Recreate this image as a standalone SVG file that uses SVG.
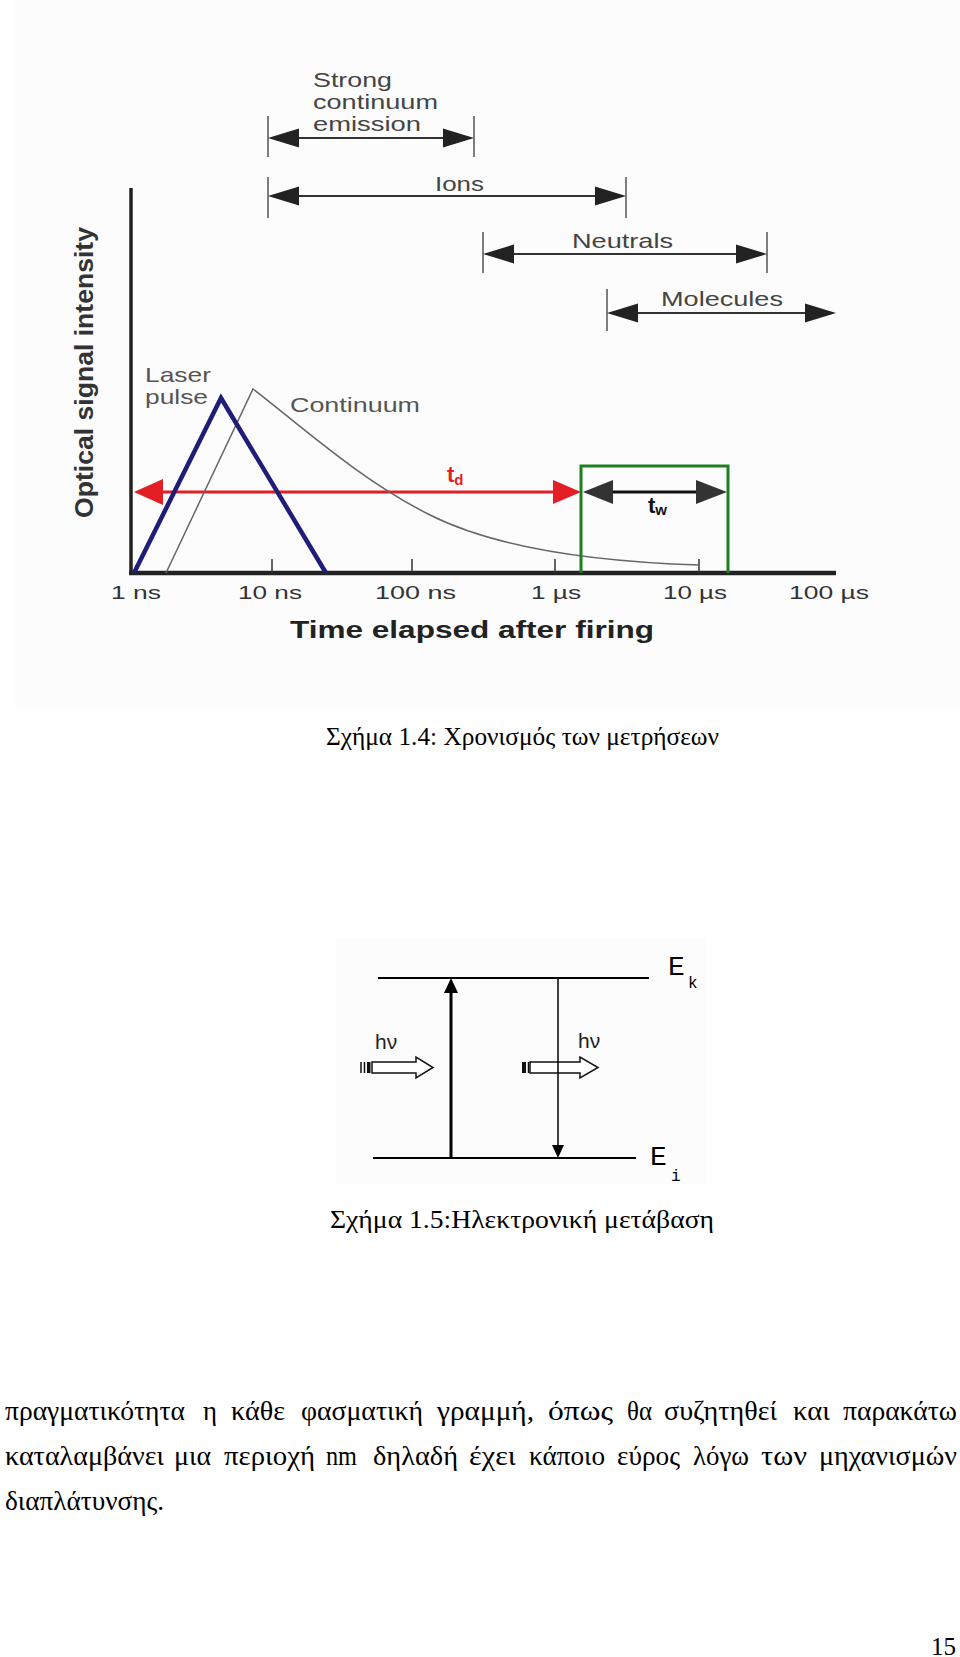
<svg xmlns="http://www.w3.org/2000/svg" width="960" height="1657" viewBox="0 0 960 1657">
<defs>
<polygon id="bh" points="0,0 -31,-9.5 -31,9.5"/>
<style>
.lbl{font-family:"Liberation Sans",Arial,sans-serif;fill:#444;font-size:21px}
.lbl2{font-family:"Liberation Sans",Arial,sans-serif;fill:#555;font-size:21px}
.tick{font-family:"Liberation Sans",Arial,sans-serif;fill:#333;font-size:19px}
.brk{stroke:#555;stroke-width:1.5}
.bl{stroke:#333;stroke-width:2}
.bhf{fill:#222}
.serif{font-family:"Liberation Serif","Times New Roman",serif;font-size:25px;fill:#000}
.body{font-family:"Liberation Serif","Times New Roman",serif;font-size:27px;fill:#000}
.mono{font-family:"Liberation Mono","Courier New",monospace;fill:#000}
.hv{font-family:"Liberation Sans",Arial,sans-serif;font-size:21px;fill:#222}
.photon{fill:#fff;stroke:#111;stroke-width:1.5}
</style>
</defs>
<rect width="960" height="1657" fill="#fff"/>
<g id="figure1">
<rect x="15" y="0" width="945" height="708" fill="#fcfcfc"/>
<g id="connectors">
<g id="br-strong">
<line class="brk" x1="268" y1="116" x2="268" y2="157"/><line class="brk" x1="474" y1="116" x2="474" y2="157"/>
<line class="bl" x1="290" y1="138" x2="452" y2="138"/>
<use href="#bh" class="bhf" transform="translate(474,138)"/><use href="#bh" class="bhf" transform="translate(268,138) rotate(180)"/>
</g>
<g id="br-ions">
<line class="brk" x1="268" y1="177" x2="268" y2="218"/><line class="brk" x1="626" y1="177" x2="626" y2="218"/>
<line class="bl" x1="290" y1="196" x2="604" y2="196"/>
<use href="#bh" class="bhf" transform="translate(626,196)"/><use href="#bh" class="bhf" transform="translate(268,196) rotate(180)"/>
</g>
<g id="br-neutrals">
<line class="brk" x1="483" y1="232" x2="483" y2="273"/><line class="brk" x1="767" y1="232" x2="767" y2="273"/>
<line class="bl" x1="505" y1="254" x2="745" y2="254"/>
<use href="#bh" class="bhf" transform="translate(767,254)"/><use href="#bh" class="bhf" transform="translate(483,254) rotate(180)"/>
</g>
<g id="br-molecules">
<line class="brk" x1="607" y1="289" x2="607" y2="331"/>
<line class="bl" x1="629" y1="313" x2="814" y2="313"/>
<use href="#bh" class="bhf" transform="translate(836,313)"/><use href="#bh" class="bhf" transform="translate(607,313) rotate(180)"/>
</g>
<g id="td-arrow">
<line x1="160" y1="492" x2="556" y2="492" stroke="#e31e24" stroke-width="3"/>
<polygon points="134,492 163,479 163,505" fill="#e31e24"/>
<polygon points="581,492 553,480 553,504" fill="#e31e24"/>
</g>
<g id="tw-arrow">
<line x1="610" y1="492" x2="700" y2="492" stroke="#111" stroke-width="3"/>
<polygon points="583,492 613,480 613,504" fill="#333"/>
<polygon points="727,492 696,480 696,504" fill="#333"/>
</g>
</g>
<g id="labels-top">
<text class="lbl" x="313" y="87" textLength="79" lengthAdjust="spacingAndGlyphs">Strong</text>
<text class="lbl" x="313" y="109" textLength="125" lengthAdjust="spacingAndGlyphs">continuum</text>
<text class="lbl" x="313" y="131" textLength="108" lengthAdjust="spacingAndGlyphs">emission</text>
<text class="lbl" x="435" y="191" textLength="49" lengthAdjust="spacingAndGlyphs">Ions</text>
<text class="lbl" x="572" y="248" textLength="101" lengthAdjust="spacingAndGlyphs">Neutrals</text>
<text class="lbl" x="661" y="306" textLength="122" lengthAdjust="spacingAndGlyphs">Molecules</text>
</g>
<g id="axes">
<line x1="131" y1="188" x2="131" y2="575" stroke="#222" stroke-width="3.5"/>
<line x1="129" y1="573" x2="836" y2="573" stroke="#222" stroke-width="4.5"/>
<g stroke="#333" stroke-width="1.5">
<line x1="272" y1="573" x2="272" y2="559"/><line x1="412" y1="573" x2="412" y2="559"/>
<line x1="555" y1="573" x2="555" y2="559"/><line x1="699" y1="573" x2="699" y2="559"/>
</g>
<text class="tick" x="111" y="599" textLength="50" lengthAdjust="spacingAndGlyphs">1 ns</text>
<text class="tick" x="238" y="599" textLength="64" lengthAdjust="spacingAndGlyphs">10 ns</text>
<text class="tick" x="375" y="599" textLength="81" lengthAdjust="spacingAndGlyphs">100 ns</text>
<text class="tick" x="531" y="599" textLength="50" lengthAdjust="spacingAndGlyphs">1 µs</text>
<text class="tick" x="663" y="599" textLength="64" lengthAdjust="spacingAndGlyphs">10 µs</text>
<text class="tick" x="789" y="599" textLength="80" lengthAdjust="spacingAndGlyphs">100 µs</text>
<text x="290" y="638" font-family="Liberation Sans, Arial, sans-serif" font-weight="bold" font-size="23" fill="#222" textLength="364" lengthAdjust="spacingAndGlyphs">Time elapsed after firing</text>
<text transform="translate(93,518) rotate(-90)" font-family="Liberation Sans, Arial, sans-serif" font-weight="bold" font-size="26" fill="#333" textLength="291" lengthAdjust="spacingAndGlyphs">Optical signal intensity</text>
</g>
<g id="curves">
<path d="M166,573 L253,389 C300,425 360,480 430,515 S600,562 700,565" fill="none" stroke="#666" stroke-width="1.5"/>
<polyline points="134,573 221,398 326,573" fill="none" stroke="#1e1e78" stroke-width="4.5"/>
<text class="lbl2" x="145" y="382" textLength="66" lengthAdjust="spacingAndGlyphs">Laser</text>
<text class="lbl2" x="145" y="404" textLength="63" lengthAdjust="spacingAndGlyphs">pulse</text>
<text class="lbl2" x="290" y="412" textLength="130" lengthAdjust="spacingAndGlyphs">Continuum</text>
</g>
<g id="window">
<path d="M581,573 V466 H728 V573" fill="none" stroke="#1d7f1d" stroke-width="3"/>
<text x="447" y="482" font-family="Liberation Sans, Arial, sans-serif" font-weight="bold" font-size="22" fill="#e31e24">t<tspan font-size="15" dy="3">d</tspan></text>
<text x="648" y="513" font-family="Liberation Sans, Arial, sans-serif" font-weight="bold" font-size="22" fill="#111">t<tspan font-size="15" dy="2">w</tspan></text>
</g>
</g>
<text id="caption1" class="serif" x="326" y="745" textLength="393" lengthAdjust="spacingAndGlyphs">Σχήμα 1.4: Χρονισμός των μετρήσεων</text>
<g id="figure2">
<rect x="336" y="938" width="370" height="246" fill="#fcfcfc"/>
<g id="level-k"><line x1="378" y1="978" x2="649" y2="978" stroke="#000" stroke-width="2"/>
<text class="mono" x="668" y="975" font-size="28">E</text><text class="mono" x="688" y="988" font-size="16">k</text></g>
<g id="level-i"><line x1="373" y1="1158" x2="636" y2="1158" stroke="#000" stroke-width="2"/>
<text class="mono" x="650" y="1165" font-size="28">E</text><text class="mono" x="671" y="1181" font-size="16">i</text></g>
<g id="transitions">
<line x1="451" y1="1158" x2="451" y2="990" stroke="#000" stroke-width="3"/>
<polygon points="451,978 444,993 458,993" fill="#000"/>
<line x1="558" y1="978" x2="558" y2="1147" stroke="#000" stroke-width="1.5"/>
<polygon points="558,1158 552,1145 564,1145" fill="#000"/>
</g>
<g id="photon-in">
<text class="hv" x="375" y="1049">hν</text>
<line x1="361" y1="1062" x2="361" y2="1073" stroke="#111" stroke-width="1.5"/>
<line x1="364.5" y1="1062" x2="364.5" y2="1073" stroke="#111" stroke-width="1.5"/>
<rect x="367" y="1062" width="3.5" height="11" fill="#111"/>
<path class="photon" d="M372,1062 H416 V1057 L433,1067.5 L416,1078 V1073 H372 Z"/>
</g>
<g id="photon-out">
<text class="hv" x="578" y="1048">hν</text>
<rect x="522" y="1062" width="4" height="11" fill="#111"/>
<line x1="528.5" y1="1062" x2="528.5" y2="1073" stroke="#111" stroke-width="1.5"/>
<path class="photon" d="M530,1062 H580 V1057 L598,1067.5 L580,1078 V1073 H530 Z"/>
<line x1="558" y1="1062" x2="558" y2="1073" stroke="#000" stroke-width="1.5"/>
</g>
</g>
<text id="caption2" class="serif" x="330" y="1228" textLength="384" lengthAdjust="spacingAndGlyphs">Σχήμα 1.5:Ηλεκτρονική μετάβαση</text>
<g id="body">
<text class="body" x="5" y="1420" textLength="180" lengthAdjust="spacingAndGlyphs">πραγματικότητα</text>
<text class="body" x="203" y="1420" textLength="14" lengthAdjust="spacingAndGlyphs">η</text>
<text class="body" x="231" y="1420" textLength="54" lengthAdjust="spacingAndGlyphs">κάθε</text>
<text class="body" x="301" y="1420" textLength="122" lengthAdjust="spacingAndGlyphs">φασματική</text>
<text class="body" x="437" y="1420" textLength="97" lengthAdjust="spacingAndGlyphs">γραμμή,</text>
<text class="body" x="548" y="1420" textLength="65" lengthAdjust="spacingAndGlyphs">όπως</text>
<text class="body" x="627" y="1420" textLength="25" lengthAdjust="spacingAndGlyphs">θα</text>
<text class="body" x="664" y="1420" textLength="113" lengthAdjust="spacingAndGlyphs">συζητηθεί</text>
<text class="body" x="793" y="1420" textLength="37" lengthAdjust="spacingAndGlyphs">και</text>
<text class="body" x="843" y="1420" textLength="114" lengthAdjust="spacingAndGlyphs">παρακάτω</text>
<text class="body" x="5" y="1465" textLength="159" lengthAdjust="spacingAndGlyphs">καταλαμβάνει</text>
<text class="body" x="174" y="1465" textLength="37" lengthAdjust="spacingAndGlyphs">μια</text>
<text class="body" x="224" y="1465" textLength="91" lengthAdjust="spacingAndGlyphs">περιοχή</text>
<text class="body" x="326" y="1465" textLength="31" lengthAdjust="spacingAndGlyphs">nm</text>
<text class="body" x="373" y="1465" textLength="85" lengthAdjust="spacingAndGlyphs">δηλαδή</text>
<text class="body" x="469" y="1465" textLength="47" lengthAdjust="spacingAndGlyphs">έχει</text>
<text class="body" x="529" y="1465" textLength="76" lengthAdjust="spacingAndGlyphs">κάποιο</text>
<text class="body" x="617" y="1465" textLength="63" lengthAdjust="spacingAndGlyphs">εύρος</text>
<text class="body" x="693" y="1465" textLength="56" lengthAdjust="spacingAndGlyphs">λόγω</text>
<text class="body" x="761" y="1465" textLength="46" lengthAdjust="spacingAndGlyphs">των</text>
<text class="body" x="819" y="1465" textLength="138" lengthAdjust="spacingAndGlyphs">μηχανισμών</text>
<text class="body" x="5" y="1510" textLength="159" lengthAdjust="spacingAndGlyphs">διαπλάτυνσης.</text>
</g>
<text id="page-number" class="serif" x="956" y="1655" text-anchor="end">15</text>
</svg>
